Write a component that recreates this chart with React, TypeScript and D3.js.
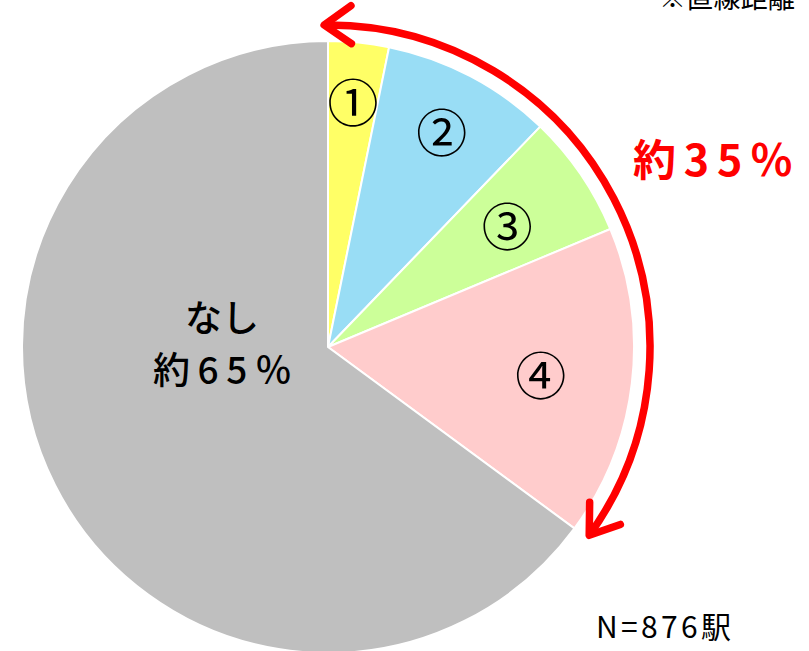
import React from 'react';
import * as d3 from 'd3';

// 徒歩圏の区分ごとの割合（%）
const categories = ['①', '②', '③', '④', 'なし'];
const shares = [3.2, 9.0, 6.5, 16.4, 64.9];
const colors = ['#FFFF66', '#99DDF5', '#CCFF99', '#FFCCCC', '#BFBFBF'];
const labelRadius = [0.81, 0.8, 0.71, 0.7, 0];

const W = 809;
const H = 651;
const cx = 328;
const cy = 347;
const R = 306;
const arrowR = 322;
const FONT = '"Noto Sans CJK JP", "Noto Sans", sans-serif';

export default function App() {
  const pie = d3.pie<number>().sort(null).value(d => d)(shares);
  const arc = d3.arc<d3.PieArcDatum<number>>().innerRadius(0).outerRadius(R);

  // 「約35%」の範囲を示す矢印
  const a0 = pie[0].startAngle - 0.012;
  const a1 = pie[3].endAngle - 0.01;
  const p = d3.path();
  p.arc(0, 0, arrowR, a0 - Math.PI / 2, a1 - Math.PI / 2);
  const pt = (a: number) => [arrowR * Math.sin(a), -arrowR * Math.cos(a)];

  const head = (a: number, dir: number) => {
    const [x, y] = pt(a);
    // tangent direction of travel (clockwise = +1)
    const tx = Math.cos(a) * dir;
    const ty = Math.sin(a) * dir;
    const L = 33;
    const sp = (35 * Math.PI) / 180;
    const arm = (s: number) => {
      const bx = -tx * Math.cos(s) + ty * Math.sin(s);
      const by = -ty * Math.cos(s) - tx * Math.sin(s);
      return [x + bx * L, y + by * L];
    };
    const [x1, y1] = arm(sp);
    const [x2, y2] = arm(-sp);
    return `M${x1},${y1}L${x},${y}L${x2},${y2}`;
  };

  return (
    <svg
      width={W}
      height={H}
      style={{ position: 'absolute', left: 0, top: 0, background: '#fff' }}
      fontFamily={FONT}
    >
      <g transform={`translate(${cx},${cy})`}>
        {pie.map((d, i) => (
          <path key={i} d={arc(d) || ''} fill={colors[i]} stroke="#fff" strokeWidth={2} />
        ))}
        {pie.slice(0, 4).map((d, i) => {
          const m = (d.startAngle + d.endAngle) / 2;
          const r = R * labelRadius[i];
          return (
            <text
              key={i}
              x={r * Math.sin(m)}
              y={-r * Math.cos(m)}
              textAnchor="middle"
              dominantBaseline="central"
              fontSize={51}
              fill="#000"
            >
              {categories[i]}
            </text>
          );
        })}
        <path d={p.toString()} fill="none" stroke="#FF0000" strokeWidth={7.5} />
        <path d={head(a0, -1)} fill="none" stroke="#FF0000" strokeWidth={7.5} strokeLinecap="round" strokeLinejoin="round" />
        <path d={head(a1, 1)} fill="none" stroke="#FF0000" strokeWidth={7.5} strokeLinecap="round" strokeLinejoin="round" />
      </g>
      <text x={222} y={332} textAnchor="middle" fontSize={37} fontWeight={500} fill="#000">
        {categories[4]}
      </text>
      <text x={153} y={384} fontSize={37} fontWeight={500} fill="#000" textLength={139} lengthAdjust="spacing">
        約65％
      </text>
      <text x={633} y={176} fontSize={43} fontWeight="bold" fill="#FF0000" textLength={160} lengthAdjust="spacing">
        約35％
      </text>
      <text x={596} y={638} fontSize={30} fill="#000" textLength={135} lengthAdjust="spacing">
        N=876駅
      </text>
      <text x={659} y={8} fontSize={27} fill="#000" textLength={136} lengthAdjust="spacing">
        ※直線距離
      </text>
    </svg>
  );
}
